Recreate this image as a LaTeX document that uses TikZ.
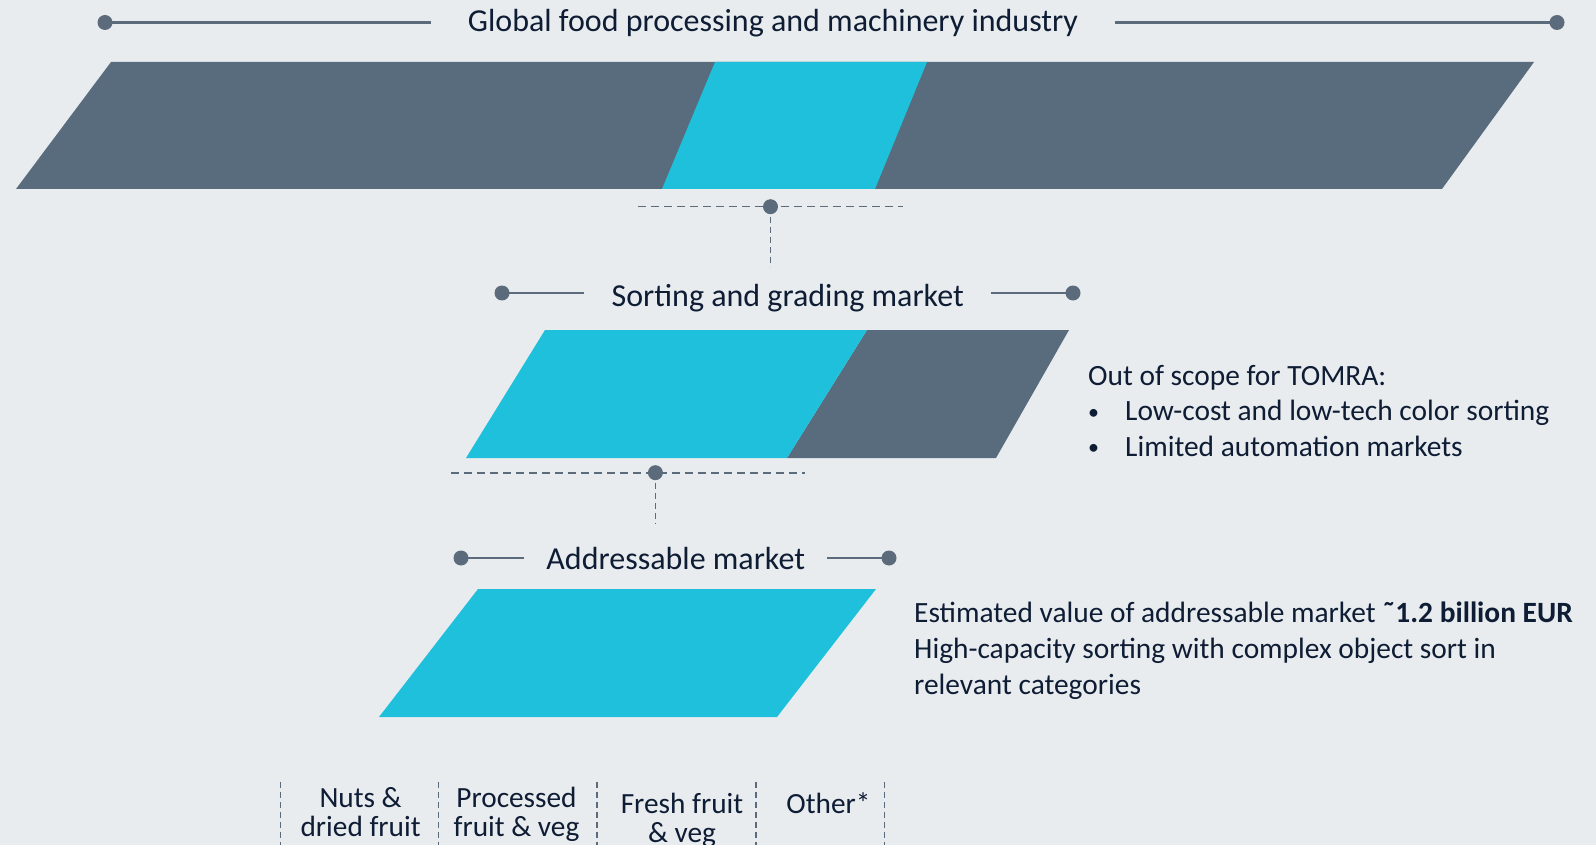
\documentclass[tikz,border=0pt]{standalone}
\usepackage{fontspec}
\setmainfont{Carlito}
\usetikzlibrary{positioning, calc}
\definecolor{tmbg}{HTML}{E8ECEF}
\definecolor{tmslate}{HTML}{586C7D}
\definecolor{tmcyan}{HTML}{1FC0DB}
\definecolor{tmline}{HTML}{5B6B7C}
\definecolor{tmtext}{HTML}{0E1C34}
\newcommand{\tmbullet}{\makebox[37pt][l]{\raisebox{1.5pt}{\fontsize{22}{22}\selectfont\textbullet}}}

\begin{document}
\begin{tikzpicture}[x=1pt, y=-1pt,
    heading/.style={text=tmtext, font=\fontsize{32}{36}\selectfont, inner ysep=0pt, anchor=base},
    body/.style={text=tmtext, font=\fontsize{29.4}{35.6}\selectfont, align=left, inner sep=0pt, anchor=base west},
    cat/.style={text=tmtext, font=\fontsize{29.3}{28.8}\selectfont, align=center, inner sep=0pt, anchor=base},
    rail/.style={draw=tmline, line width=2.8pt},
    hubline/.style={draw=tmline, line width=1.6pt, dash pattern=on 8pt off 5pt},
    drop/.style={draw=tmline, line width=1.3pt, dash pattern=on 6pt off 4pt},
    sep/.style={draw=tmline, line width=1.1pt, dash pattern=on 6pt off 4pt},
    knob/.style={fill=tmline}
  ]
  \fill[tmbg] (0,0) rectangle (1596,845);
  \useasboundingbox (0,0) rectangle (1596,845);

  % global market
  \fill[tmslate] (16,189) -- (111,62) -- (1534,62) -- (1442,189) -- cycle;
  \fill[tmcyan] (662,189) -- (715,62) -- (927,62) -- (875,189) -- cycle;

  \node[heading, inner xsep=37pt] (global) at (773,31.7) {Global food processing and machinery industry};
  \coordinate (globalL) at (105,22.5);
  \coordinate (globalR) at (1557,22.5);
  \draw[rail] (globalL) -- (globalL -| global.west);
  \draw[rail] (global.east |- globalR) -- (globalR);
  \fill[knob] (globalL) circle (7.5pt);
  \fill[knob] (globalR) circle (7.5pt);

  \coordinate (hubA) at (770.5,206.7);
  \coordinate (hubAl) at (638,206.7);
  \coordinate (hubAr) at (903,206.7);
  \coordinate (hubAend) at (770.5,266.7);
  \draw[hubline] (hubAl) -- (hubAr);
  \draw[drop] (hubA) -- (hubAend);
  \fill[knob] (hubA) circle (7.5pt);

  % sorting and grading
  \fill[tmslate] (787,458) -- (867,330) -- (1069,330) -- (996,458) -- cycle;
  \fill[tmcyan] (466,458) -- (545,330) -- (867,330) -- (787,458) -- cycle;

  \node[heading, inner xsep=27pt] (sorting) at (787.7,306) {Sorting and grading market};
  \coordinate (sortingL) at (502,293);
  \coordinate (sortingR) at (1073,293);
  \draw[rail] (sortingL) -- (sortingL -| sorting.west);
  \draw[rail] (sorting.east |- sortingR) -- (sortingR);
  \fill[knob] (sortingL) circle (7.5pt);
  \fill[knob] (sortingR) circle (7.5pt);

  % base of a multi-line node is its last line
  \node[body] (scope) at (1088,456.2) {Out of scope for TOMRA:\\
    \tmbullet Low-cost and low-tech color sorting\\
    \tmbullet Limited automation markets};

  \coordinate (hubB) at (655.4,472.7);
  \coordinate (hubBl) at (451,472.7);
  \coordinate (hubBr) at (805,472.7);
  \coordinate (hubBend) at (655.4,524);
  \draw[hubline] (hubBl) -- (hubBr);
  \draw[drop] (hubB) -- (hubBend);
  \fill[knob] (hubB) circle (7.5pt);

  % addressable
  \fill[tmcyan] (379,717) -- (478,589) -- (876,589) -- (777,717) -- cycle;

  \node[heading, inner xsep=22pt] (address) at (675.7,569) {Addressable market};
  \coordinate (addressL) at (461,558);
  \coordinate (addressR) at (889,558);
  \draw[rail] (addressL) -- (addressL -| address.west);
  \draw[rail] (address.east |- addressR) -- (addressR);
  \fill[knob] (addressL) circle (7.5pt);
  \fill[knob] (addressR) circle (7.5pt);

  \node[body] (estimate) at (914,694) {Estimated value of addressable market \textbf{˜1.2 billion EUR}\\
    High-capacity sorting with complex object sort in\\
    relevant categories};

  % categories
  \foreach \sx in {280.4, 438.8, 597, 756, 884.5} {
    \draw[sep] (\sx,781.7) -- (\sx,845);
  }
  \node[cat] (nuts) at (360.6,836) {Nuts \&\\dried fruit};
  \node[cat] (processed) at (516.5,836) {Processed\\fruit \& veg};
  \node[cat] (fresh) at (682,842) {Fresh fruit\\\& veg};
  \node[cat] (other) at (828.4,813) {Other*};
\end{tikzpicture}
\end{document}
